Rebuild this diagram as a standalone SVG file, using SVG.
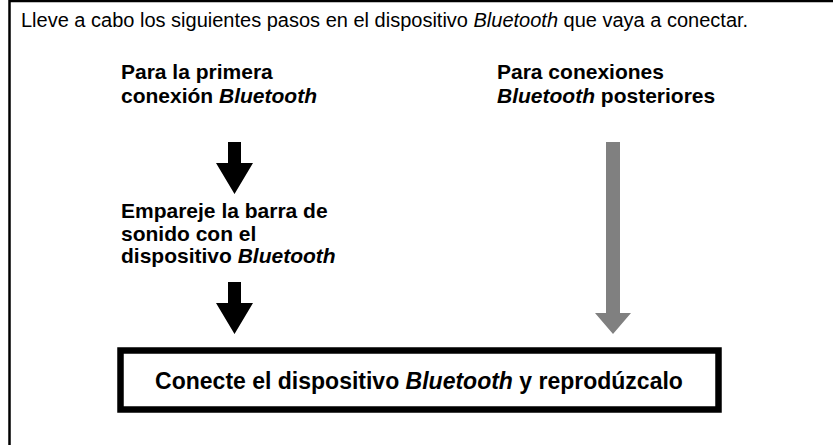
<svg xmlns="http://www.w3.org/2000/svg" width="833" height="445" viewBox="0 0 833 445">
<style>
text{font-family:"Liberation Sans",Arial,Helvetica,sans-serif;fill:#000}
.h{font-size:20px}
.b{font-size:21px;font-weight:bold}
.c{font-size:23px;font-weight:bold}
.i{font-style:italic}
</style>
<rect x="0" y="0" width="833" height="445" fill="#fff"/>
<g id="frame">
<path d="M9.5,460 V1 H840" fill="none" stroke="#000" stroke-width="2.5"/>
<text class="h" x="21" y="27">Lleve a cabo los siguientes pasos en el dispositivo <tspan class="i">Bluetooth</tspan> que vaya a conectar.</text>
</g>
<g id="first">
<text class="b" x="121" y="79">Para la primera</text>
<text class="b" x="121" y="103">conexión <tspan class="i">Bluetooth</tspan></text>
</g>
<g id="later">
<text class="b" x="497" y="79">Para conexiones</text>
<text class="b" x="497" y="103"><tspan class="i">Bluetooth</tspan> posteriores</text>
</g>
<g id="pair">
<text class="b" x="121" y="218">Empareje la barra de</text>
<text class="b" x="121" y="240.5">sonido con el</text>
<text class="b" x="121" y="263">dispositivo <tspan class="i">Bluetooth</tspan></text>
</g>
<g id="connect">
<rect x="120.5" y="350.5" width="598" height="59" fill="#fff" stroke="#000" stroke-width="6.5"/>
<text class="c" x="419" y="388.5" text-anchor="middle">Conecte el dispositivo <tspan class="i">Bluetooth</tspan> y reprodúzcalo</text>
</g>
<g id="connectors">
<polygon points="228,142 241,142 241,163 253,163 234.5,194 216,163 228,163" fill="#000"/>
<polygon points="228,282 241,282 241,303 253,303 234.5,334 216,303 228,303" fill="#000"/>
<polygon points="606,142 620,142 620,313 631,313 613,334 595,313 606,313" fill="#808080"/>
</g>
</svg>
